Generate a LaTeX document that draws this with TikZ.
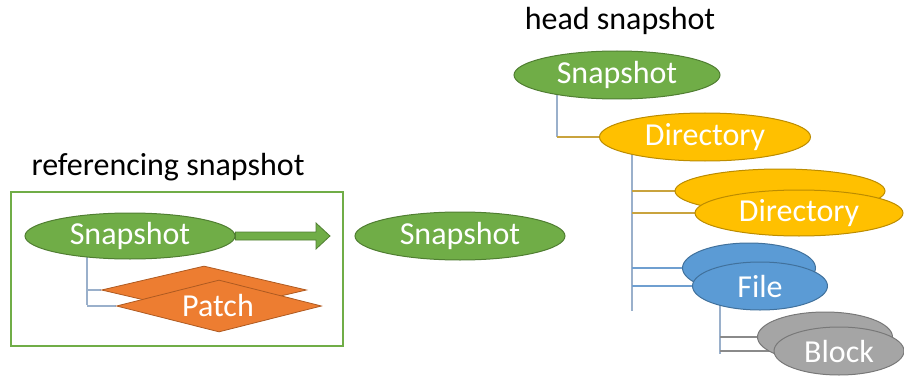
\documentclass[tikz,border=0pt]{standalone}
\usepackage{fontspec}
\setmainfont{Carlito}
\usetikzlibrary{shapes.geometric,backgrounds,calc}
\definecolor{gfill}{HTML}{70AD47}
\definecolor{gdraw}{HTML}{507E32}
\definecolor{yfill}{HTML}{FFC000}
\definecolor{ydraw}{HTML}{BC8C00}
\definecolor{bfill}{HTML}{5B9BD5}
\definecolor{bdraw}{HTML}{41719C}
\definecolor{afill}{HTML}{A5A5A5}
\definecolor{adraw}{HTML}{787878}
\definecolor{ofill}{HTML}{ED7D31}
\definecolor{odraw}{HTML}{AE5A21}
\definecolor{vline}{HTML}{9AB0CB}
\definecolor{dline}{HTML}{C9A33E}
\definecolor{fline}{HTML}{6F9FD0}
\definecolor{kline}{HTML}{8A8A8A}
\tikzset{
  ell/.style={ellipse, inner sep=0pt, line width=1pt, text=white,
    font=\fontsize{32}{37}\selectfont},
  greenell/.style={ell, fill=gfill, draw=gdraw},
  yellowell/.style={ell, fill=yfill, draw=ydraw},
  blueell/.style={ell, fill=bfill, draw=bdraw},
  grayell/.style={ell, fill=afill, draw=adraw},
  patchbox/.style={diamond, inner sep=0pt, fill=ofill, draw=odraw, line width=0.8pt,
    text=white, font=\fontsize{32}{37}\selectfont},
  title/.style={font=\fontsize{32}{37}\selectfont, text=black, inner sep=0pt},
  conn/.style={line width=1.1pt},
}
\begin{document}
\begin{tikzpicture}[x=1pt,y=-1pt]
\useasboundingbox (0,0) rectangle (904,377);
% titles
\node[title] (headlbl) at (620,21) {head snapshot};
\node[title] (reflbl) at (168,167) {referencing snapshot};
% frame
\node[draw=gfill, line width=1.5pt, minimum width=332pt, minimum height=154pt, inner sep=0pt] (frame) at (177,269) {};
% left side
\node[greenell, minimum width=210pt, minimum height=46pt] (s1) at (130,236) {Snapshot};
\node[patchbox, minimum width=205pt, minimum height=48pt] (pback) at (204,290) {};
\node[patchbox, minimum width=205pt, minimum height=52pt] (p) at (219,306) {};
\node[text=white, font=\fontsize{32}{37}\selectfont, inner sep=0pt] (ptext) at (218,306) {Patch};
% middle
\node[greenell, minimum width=210pt, minimum height=48pt] (s2) at (460,236) {Snapshot};
% arrow
\coordinate (atip) at (330,236);
\filldraw[fill=gfill, draw=gdraw, line width=0.8pt]
  (s1.east) ++(0,-4) -- (316,232) -- (316,223) -- (atip) -- (316,249) -- (316,240) -- ($(s1.east)+(0,4)$) -- cycle;
% right side
\node[greenell, minimum width=206pt, minimum height=48pt] (hs) at (617,75) {Snapshot};
\node[yellowell, minimum width=211pt, minimum height=48pt] (hd) at (705,137) {Directory};
\node[yellowell, minimum width=210pt, minimum height=44pt] (d2back) at (780,191) {};
\node[yellowell, minimum width=208pt, minimum height=46pt] (d2) at (799,213) {Directory};
\node[blueell, minimum width=133pt, minimum height=50pt] (fback) at (749,268) {};
\node[blueell, minimum width=135pt, minimum height=48pt] (f) at (760,286) {File};
\node[grayell, minimum width=135pt, minimum height=50pt] (bback) at (825,337) {};
\node[grayell, minimum width=130pt, minimum height=48pt] (b) at (839,351) {Block};
% end points
\coordinate (hdEnd) at (632,311);
\coordinate (fEnd) at (720,354);
\coordinate (s1End) at (87,305);
\begin{pgfonlayer}{background}
  \draw[conn, draw=vline] ([xshift=-60pt]hs.center) -- ([xshift=-60pt]hs.center |- hd.west);
  \draw[conn, draw=dline] ([xshift=-60pt]hs.center |- hd.west) -- (hd.west);
  \draw[conn, draw=vline] (hdEnd |- hd.center) -- (hdEnd);
  \draw[conn, draw=dline] (hdEnd |- d2back.west) -- (d2back.west);
  \draw[conn, draw=dline] (hdEnd |- d2.west) -- (d2.west);
  \draw[conn, draw=fline] (hdEnd |- fback.west) -- (fback.west);
  \draw[conn, draw=fline] (hdEnd |- f.west) -- (f.west);
  \draw[conn, draw=vline] (fEnd |- f.center) -- (fEnd);
  \draw[conn, draw=kline] (fEnd |- bback.west) -- (bback.west);
  \draw[conn, draw=kline] (fEnd |- b.west) -- (b.west);
  \draw[conn, draw=vline] (s1End |- s1.center) -- (s1End);
  \draw[conn, draw=vline] (s1End |- pback.west) -- (pback.west);
  \draw[conn, draw=vline] (s1End |- p.west) -- (p.west);
\end{pgfonlayer}
\end{tikzpicture}
\end{document}
